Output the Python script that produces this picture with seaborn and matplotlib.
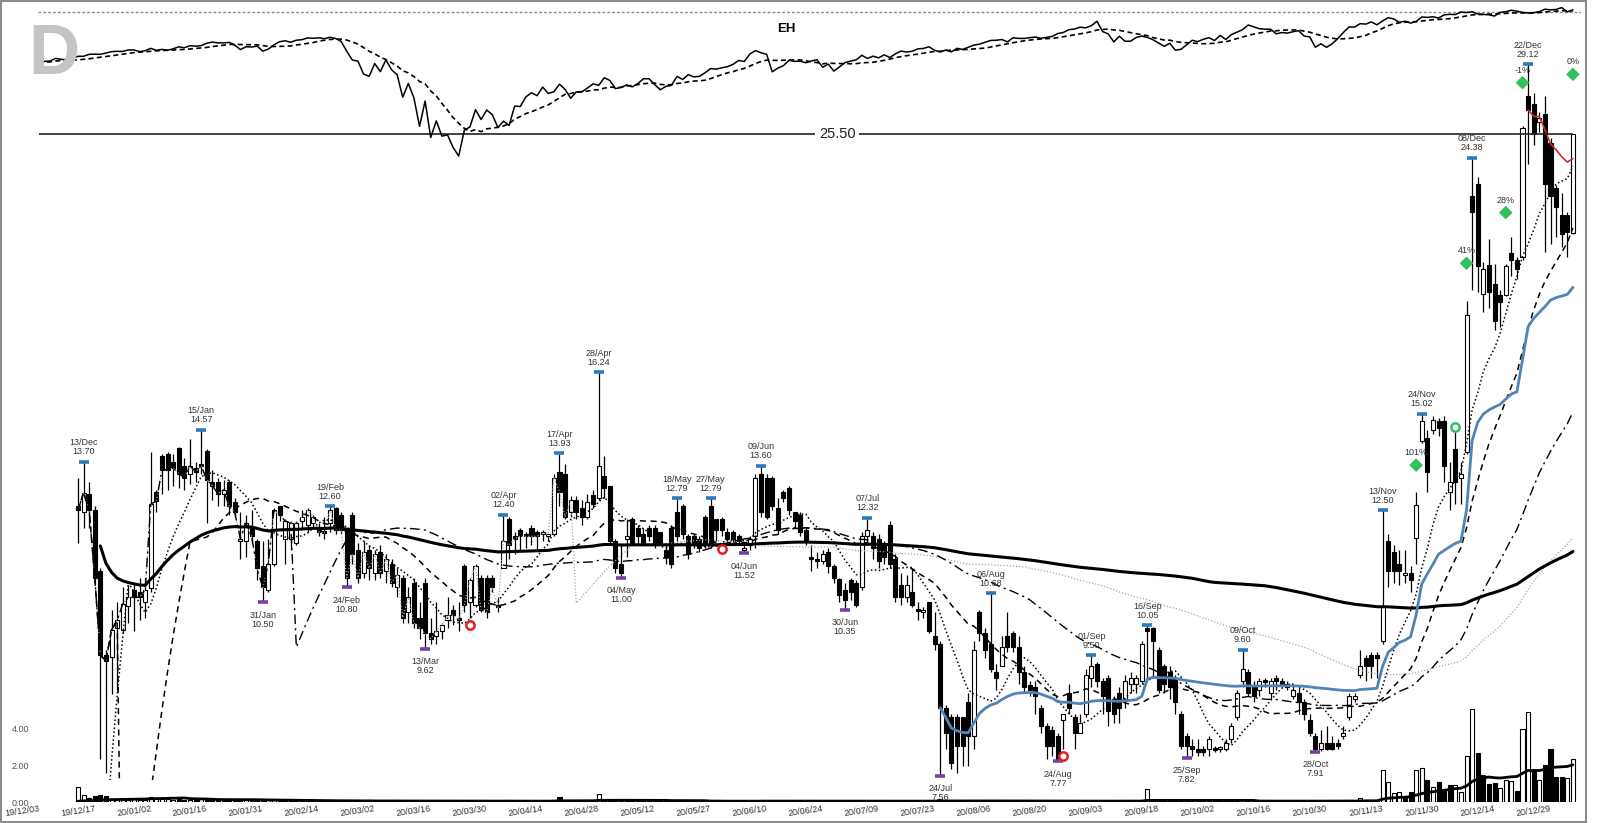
import numpy as np
import pandas as pd
import matplotlib
matplotlib.use("Agg")
import matplotlib.pyplot as plt
from matplotlib.patches import Rectangle
import seaborn as sns

# NYSE sessions covered by the chart (first tick is 19/12/03)
holidays = ["2019-12-25", "2020-01-01", "2020-01-20", "2020-02-17", "2020-04-10",
            "2020-05-25", "2020-07-03", "2020-09-07", "2020-11-26", "2020-12-25",
            "2021-01-01"]
days = pd.bdate_range("2019-12-03", "2021-01-05")
days = days[~days.isin(pd.to_datetime(holidays))]
ipo_date = "2019-12-12"

# EH daily bars from the IPO, one line per month
eh_open = [
    12.6, 12.45, 12.9, 12.5, 11.15, 9.5, 9.47, 10.0, 9.97, 10.42, 10.75, 10.7, 10.5,
    10.78, 12.95, 13.85, 13.9, 13.7, 14.07, 13.6, 13.4, 13.55, 13.65, 14.0, 13.2, 13.2, 12.9, 13.2, 12.7, 11.8, 11.8, 12.1, 11.8, 11.25,
    10.75, 11.3, 12.6, 11.85, 11.85, 11.75, 12.25, 12.15, 12.2, 12.1, 12.0, 12.2, 12.55, 12.4, 12.05, 12.4, 11.6, 11.1, 11.6,
    11.1, 11.55, 11.15, 11.3, 10.8, 11.0, 10.3, 10.9, 10.2, 10.9, 9.9, 9.85, 9.95, 10.15, 10.35, 10.2, 11.25, 10.5, 10.45, 11.0, 11.0, 11.0,
    10.45, 11.2, 12.3, 11.9, 12.05, 11.95, 12.1, 12.0, 11.95, 11.9, 11.95, 13.45, 13.4, 12.45, 12.75, 12.55, 12.35, 12.87, 12.8, 13.35, 13.1,
    11.8, 11.3, 11.85, 12.3, 12.1, 11.95, 12.1, 12.1, 12.0, 11.6, 12.1, 12.45, 12.6, 11.9, 11.9, 11.85, 12.35, 12.6, 12.3, 12.3,
    12.0, 12.0, 11.9, 11.6, 11.7, 11.9, 13.4, 13.3, 13.3, 12.55, 12.95, 13.05, 12.45, 12.4, 12.05, 11.45, 11.4, 11.35, 11.55, 11.25, 10.98, 10.75,
    10.95, 10.9, 10.8, 11.9, 11.9, 11.85, 11.7, 12.15, 11.4, 10.85, 10.6, 10.7, 10.35, 10.3, 10.5, 9.85, 9.7, 8.6, 8.45, 8.45, 8.45, 8.7,
    8.15, 10.3, 9.9, 9.7, 9.2, 9.3, 9.85, 9.9, 9.65, 9.2, 8.98, 8.95, 8.6, 8.3, 8.25, 8.15, 8.4, 8.85, 8.45, 8.2, 8.5,
    9.1, 9.35, 9.05, 9.1, 8.75, 8.85, 8.75, 9.0, 9.0, 9.05, 10.0, 10.0, 9.6, 9.3, 9.2, 9.1, 8.5, 8.15, 7.99, 7.95, 7.95,
    7.95, 7.95, 7.95, 7.95, 8.1, 8.45, 9.05, 9.2, 8.95, 8.9, 9.05, 8.85, 9.1, 9.05, 9.0, 8.8, 8.85, 8.7, 8.4, 8.15, 7.95, 8.05,
    8.05, 8.05, 8.15, 8.45, 8.75, 9.15, 9.45, 9.5, 9.5, 9.75, 11.8, 11.55, 11.3, 11.05, 11.1, 11.86, 14.25, 14.35, 14.55, 14.8,
    14.8, 12.95, 14.05, 13.3, 13.95, 22.7, 23.2, 18.85, 19.9, 19.2, 18.8, 18.8, 20.35, 20.1, 20.2, 27.4, 27.0, 26.1, 26.5, 25.1, 23.05, 21.9,
    21.9, 21.15,
]
eh_high = [
    13.3, 13.70, 13.2, 12.6, 11.2, 9.6, 10.35, 10.5, 10.8, 10.85, 10.9, 11.0, 11.0,
    13.97, 13.0, 13.9, 13.95, 13.9, 14.1, 13.8, 14.3, 13.7, 14.57, 14.05, 13.5, 13.3, 13.25, 13.25, 12.8, 12.45, 12.4, 12.5, 11.85, 11.8,
    11.85, 12.55, 12.58, 12.3, 12.25, 12.25, 12.5, 12.55, 12.4, 12.2, 12.35, 12.60, 12.58, 12.45, 12.1, 12.45, 11.75, 11.8, 11.7,
    11.6, 11.7, 11.5, 11.4, 11.2, 11.05, 10.8, 11.0, 10.5, 11.0, 10.2, 10.5, 10.1, 10.6, 10.45, 10.5, 11.3, 11.0, 11.3, 11.05, 11.05, 11.05,
    10.6, 12.40, 12.35, 12.0, 12.1, 12.0, 12.15, 12.05, 12.05, 11.95, 13.4, 13.93, 13.65, 12.85, 12.85, 12.75, 12.9, 13.0, 16.24, 13.85, 13.1,
    11.85, 11.7, 12.3, 12.35, 12.15, 12.1, 12.15, 12.15, 12.0, 11.75, 12.15, 12.79, 12.65, 11.95, 11.95, 11.9, 12.4, 12.79, 12.3, 12.35,
    12.1, 12.05, 11.95, 11.75, 11.9, 13.4, 13.60, 13.4, 13.35, 12.8, 13.0, 13.1, 12.45, 12.45, 12.1, 11.7, 11.55, 11.6, 11.65, 11.3, 11.0, 10.9,
    11.0, 10.95, 12.0, 12.32, 12.0, 11.95, 11.8, 12.25, 11.5, 11.1, 11.05, 11.2, 10.5, 10.4, 10.5, 10.3, 9.75, 8.65, 8.5, 8.5, 8.45, 8.85,
    9.75, 10.35, 10.0, 10.68, 9.35, 9.85, 10.3, 9.95, 9.85, 9.3, 9.05, 9.05, 8.65, 8.35, 8.3, 8.2, 8.5, 9.0, 8.5, 8.5, 9.25,
    9.50, 9.38, 9.1, 9.15, 8.8, 8.95, 9.15, 9.2, 9.15, 9.75, 10.05, 10.02, 9.65, 9.35, 9.3, 9.15, 8.55, 8.2, 8.1, 8.1, 8.0,
    8.15, 8.0, 8.0, 8.1, 8.35, 8.9, 9.60, 9.25, 9.05, 9.1, 9.1, 9.1, 9.15, 9.1, 9.05, 9.0, 8.95, 8.75, 8.5, 8.2, 8.25, 8.3,
    8.15, 8.1, 8.3, 8.85, 8.85, 9.6, 9.5, 9.55, 9.55, 12.50, 11.95, 11.7, 11.6, 11.6, 11.25, 12.95, 15.02, 14.55, 14.95, 14.9,
    14.95, 13.7, 14.5, 13.7, 18.6, 24.38, 23.5, 20.0, 20.9, 19.95, 19.0, 19.95, 21.0, 20.2, 25.9, 29.12, 27.6, 26.6, 27.4, 25.3, 23.15, 22.8,
    22.0, 25.50,
]
eh_low = [
    11.75, 12.1, 12.1, 10.9, 7.8, 7.6, 8.83, 8.9, 9.9, 10.1, 9.95, 10.15, 10.2,
    10.7, 12.45, 12.9, 13.0, 13.1, 13.05, 13.0, 13.15, 13.2, 13.4, 12.2, 12.75, 12.6, 12.6, 12.4, 12.35, 11.4, 11.45, 11.75, 10.95, 10.50,
    10.7, 11.25, 12.25, 11.3, 11.6, 11.7, 12.1, 12.0, 12.1, 11.9, 11.85, 12.0, 11.95, 11.95, 10.80, 11.3, 10.9, 11.0, 10.95,
    10.95, 11.0, 10.9, 10.8, 10.6, 10.1, 10.1, 10.0, 9.8, 9.62, 9.7, 9.7, 9.8, 10.0, 10.05, 9.95, 10.3, 10.2, 10.4, 10.3, 10.2, 10.7,
    10.3, 11.2, 11.4, 11.5, 11.6, 11.65, 11.7, 11.6, 11.8, 11.8, 11.9, 12.6, 12.3, 12.35, 12.3, 12.15, 12.3, 12.55, 12.75, 12.8, 11.7,
    11.1, 11.00, 11.45, 11.7, 11.7, 11.7, 11.8, 11.65, 11.7, 11.3, 11.2, 11.8, 11.85, 11.4, 11.65, 11.55, 11.65, 11.65, 11.8, 11.9,
    11.7, 11.75, 11.7, 11.52, 11.6, 11.65, 12.35, 12.3, 12.5, 11.95, 12.7, 12.4, 12.1, 11.9, 11.7, 11.15, 11.2, 11.3, 11.1, 10.9, 10.5, 10.35,
    10.55, 10.4, 10.75, 11.7, 11.4, 11.2, 11.3, 11.2, 10.5, 10.45, 10.5, 10.4, 10.15, 10.2, 9.9, 9.6, 7.56, 7.95, 7.65, 7.6, 7.7, 7.7,
    7.95, 9.75, 9.45, 9.2, 8.9, 9.3, 9.55, 9.55, 9.0, 8.85, 8.8, 8.5, 8.2, 7.8, 7.85, 7.77, 7.95, 8.5, 7.95, 8.2, 8.45,
    8.95, 8.95, 8.5, 8.3, 8.35, 8.35, 8.6, 8.85, 8.85, 9.0, 9.05, 9.1, 8.85, 8.85, 8.75, 8.5, 7.95, 7.82, 7.85, 7.85, 7.85,
    7.85, 7.9, 7.9, 7.92, 8.05, 8.4, 8.95, 8.8, 8.7, 8.8, 8.95, 8.75, 8.9, 8.95, 8.9, 8.75, 8.5, 8.4, 8.15, 7.91, 7.92, 7.93,
    7.93, 7.95, 8.1, 8.4, 8.7, 9.1, 9.05, 9.1, 9.1, 9.7, 10.8, 10.9, 10.85, 10.9, 10.7, 11.3, 14.2, 12.95, 14.45, 14.4,
    13.2, 12.5, 12.65, 12.65, 13.9, 19.0, 18.9, 18.2, 18.35, 17.6, 17.7, 18.75, 19.5, 19.4, 20.1, 24.1, 25.0, 25.6, 20.4, 20.7, 21.0, 20.6,
    20.2, 21.1,
]
eh_close = [
    12.5, 12.93, 12.5, 11.0, 9.5, 9.4, 9.97, 10.15, 10.47, 10.6, 10.6, 10.6, 10.75,
    12.65, 12.72, 13.5, 13.5, 13.55, 13.4, 13.3, 13.6, 13.45, 13.6, 13.25, 13.1, 12.9, 13.0, 12.6, 12.45, 11.85, 12.2, 11.9, 11.2, 10.8,
    11.3, 12.5, 12.4, 12.25, 12.2, 12.2, 12.35, 12.5, 12.35, 12.0, 11.97, 12.5, 12.05, 12.05, 11.0, 11.5, 11.0, 11.55, 11.2,
    11.5, 11.1, 11.4, 10.9, 11.05, 10.2, 10.6, 10.1, 10.0, 9.9, 9.8, 9.95, 10.05, 10.25, 10.25, 10.15, 10.45, 10.95, 11.25, 10.35, 10.3, 10.8,
    10.4, 11.8, 11.7, 11.85, 11.9, 11.9, 11.9, 11.9, 11.97, 11.95, 13.3, 12.95, 12.35, 12.75, 12.45, 12.35, 12.7, 12.65, 13.6, 13.05, 11.8,
    11.2, 11.1, 11.9, 11.75, 11.9, 11.75, 11.9, 11.75, 11.75, 11.45, 11.3, 11.9, 11.95, 11.5, 11.75, 11.65, 11.7, 11.7, 12.05, 12.05,
    11.85, 11.85, 11.8, 11.65, 11.85, 13.3, 12.45, 12.35, 12.6, 12.05, 12.8, 12.5, 12.25, 12.0, 11.8, 11.4, 11.35, 11.5, 11.25, 11.0, 10.65, 10.55,
    10.7, 10.45, 11.9, 12.05, 11.65, 11.35, 11.45, 11.3, 10.6, 10.6, 10.85, 10.45, 10.32, 10.3, 9.95, 9.7, 8.6, 8.2, 7.75, 8.0, 8.0, 8.15,
    9.6, 9.9, 9.6, 9.25, 9.1, 9.65, 9.65, 9.65, 9.2, 8.95, 8.9, 8.8, 8.3, 8.0, 8.0, 7.8, 8.5, 8.6, 8.2, 8.35, 9.15,
    9.3, 9.05, 8.8, 8.55, 8.5, 8.6, 9.05, 9.1, 9.1, 9.7, 9.95, 9.75, 8.9, 9.0, 8.95, 8.7, 8.0, 7.99, 7.95, 7.9, 7.9,
    8.1, 7.93, 7.95, 8.05, 8.3, 8.85, 9.25, 8.85, 8.8, 9.05, 9.02, 9.05, 9.05, 9.0, 8.95, 8.9, 8.7, 8.5, 8.2, 7.95, 8.05, 7.95,
    7.95, 8.0, 8.2, 8.8, 8.8, 9.3, 9.3, 9.3, 9.45, 10.42, 11.15, 11.15, 11.15, 11.1, 10.95, 12.63, 14.8, 13.45, 14.85, 14.6,
    13.6, 13.2, 13.2, 13.4, 18.1, 22.0, 19.85, 19.75, 18.9, 17.9, 18.55, 19.85, 20.1, 19.75, 25.8, 26.7, 25.5, 26.3, 23.2, 22.7, 22.2, 21.1,
    21.2, 25.50,
]
eh_volume = [
    0.80, 0.38, 0.20, 0.32, 0.38, 0.35, 0.17, 0.12, 0.10, 0.10, 0.14, 0.12, 0.10,
    0.27, 0.15, 0.18, 0.14, 0.12, 0.15, 0.12, 0.13, 0.10, 0.14, 0.16, 0.10, 0.09, 0.08, 0.10, 0.08, 0.10, 0.09, 0.08, 0.10, 0.10,
    0.09, 0.10, 0.07, 0.06, 0.05, 0.05, 0.05, 0.06, 0.04, 0.04, 0.04, 0.06, 0.05, 0.05, 0.07, 0.06, 0.05, 0.05, 0.10,
    0.05, 0.05, 0.04, 0.10, 0.05, 0.06, 0.05, 0.05, 0.05, 0.06, 0.05, 0.04, 0.04, 0.04, 0.04, 0.05, 0.05, 0.04, 0.05, 0.04, 0.04, 0.04,
    0.04, 0.08, 0.10, 0.05, 0.04, 0.04, 0.04, 0.04, 0.04, 0.05, 0.12, 0.27, 0.10, 0.06, 0.05, 0.05, 0.05, 0.06, 0.45, 0.12, 0.08,
    0.08, 0.06, 0.05, 0.05, 0.04, 0.04, 0.04, 0.04, 0.04, 0.04, 0.05, 0.06, 0.05, 0.04, 0.04, 0.04, 0.05, 0.06, 0.04, 0.04,
    0.04, 0.04, 0.04, 0.05, 0.04, 0.08, 0.10, 0.07, 0.05, 0.05, 0.04, 0.04, 0.04, 0.04, 0.04, 0.04, 0.04, 0.04, 0.04, 0.04, 0.05, 0.05,
    0.04, 0.04, 0.06, 0.08, 0.05, 0.04, 0.04, 0.05, 0.05, 0.04, 0.04, 0.04, 0.04, 0.04, 0.05, 0.06, 0.15, 0.10, 0.08, 0.06, 0.05, 0.05,
    0.06, 0.06, 0.05, 0.06, 0.05, 0.05, 0.05, 0.04, 0.05, 0.04, 0.04, 0.04, 0.05, 0.05, 0.05, 0.08, 0.05, 0.04, 0.04, 0.04, 0.05,
    0.06, 0.05, 0.05, 0.05, 0.04, 0.04, 0.04, 0.04, 0.05, 0.12, 0.71, 0.10, 0.06, 0.05, 0.05, 0.05, 0.06, 0.05, 0.04, 0.04, 0.04,
    0.04, 0.04, 0.04, 0.04, 0.05, 0.06, 0.10, 0.06, 0.05, 0.05, 0.04, 0.04, 0.04, 0.04, 0.08, 0.04, 0.04, 0.05, 0.05, 0.06, 0.04, 0.04,
    0.05, 0.05, 0.06, 0.10, 0.08, 0.20, 0.10, 0.08, 0.08, 1.74, 1.10, 0.47, 0.56, 0.29, 0.52, 1.74, 1.83, 1.20, 0.83, 1.10,
    0.66, 0.93, 0.93, 0.56, 2.50, 5.07, 2.69, 1.47, 0.98, 1.02, 0.75, 1.20, 1.17, 0.60, 3.98, 4.89, 1.74, 1.20, 2.02, 2.87, 1.37, 1.37,
    1.28, 2.32,
]

# market line in the top band (S&P 500 closes, whole axis)
spx_close = [
    3093, 3113, 3117, 3146, 3135, 3132, 3142, 3169, 3169, 3191, 3192, 3191, 3205, 3221, 3224, 3223, 3240, 3240, 3221, 3231,
    3258, 3235, 3246, 3237, 3253, 3275, 3265, 3288, 3283, 3289, 3317, 3330, 3321, 3321, 3326, 3295, 3244, 3276, 3273, 3284, 3226,
    3249, 3298, 3334, 3345, 3328, 3352, 3358, 3379, 3374, 3380, 3370, 3386, 3373, 3338, 3226, 3128, 3116, 2979, 2954,
    3090, 3003, 3130, 3024, 2972, 2747, 2882, 2741, 2481, 2711, 2386, 2529, 2398, 2409, 2305, 2237, 2447, 2476, 2630, 2541, 2627, 2585,
    2471, 2527, 2489, 2664, 2659, 2750, 2790, 2762, 2846, 2783, 2800, 2875, 2823, 2737, 2799, 2798, 2837, 2878, 2863, 2940, 2912,
    2831, 2842, 2868, 2848, 2881, 2930, 2930, 2870, 2820, 2852, 2864, 2954, 2922, 2972, 2949, 2955, 2992, 3036, 3030, 3044,
    3056, 3081, 3123, 3112, 3194, 3232, 3208, 3190, 3002, 3041, 3067, 3125, 3113, 3115, 3098, 3118, 3131, 3050, 3084, 3009, 3053, 3100,
    3116, 3130, 3180, 3145, 3170, 3152, 3185, 3155, 3197, 3227, 3216, 3225, 3252, 3257, 3276, 3236, 3216, 3239, 3218, 3258, 3246, 3271,
    3295, 3306, 3327, 3349, 3351, 3360, 3333, 3380, 3373, 3373, 3382, 3389, 3375, 3385, 3397, 3431, 3444, 3478, 3485, 3508, 3500,
    3527, 3581, 3455, 3427, 3332, 3399, 3340, 3341, 3384, 3401, 3385, 3358, 3320, 3281, 3316, 3237, 3247, 3298, 3351, 3336, 3363,
    3381, 3348, 3409, 3361, 3419, 3447, 3477, 3535, 3512, 3489, 3483, 3484, 3427, 3443, 3436, 3453, 3465, 3401, 3391, 3271, 3310, 3270,
    3310, 3370, 3443, 3510, 3509, 3551, 3546, 3573, 3537, 3585, 3627, 3610, 3568, 3582, 3558, 3577, 3635, 3630, 3638, 3622,
    3662, 3669, 3666, 3699, 3692, 3702, 3673, 3668, 3663, 3647, 3695, 3702, 3722, 3709, 3694, 3687, 3690, 3703, 3735, 3727, 3732, 3756,
    3701, 3726,
]
spx_ref = 3702

high_dates = ["2019-12-13", "2020-01-15", "2020-02-19", "2020-04-02", "2020-04-17", "2020-04-28",
              "2020-05-18", "2020-05-27", "2020-06-09", "2020-07-07", "2020-08-06", "2020-09-01",
              "2020-09-16", "2020-10-09", "2020-11-13", "2020-11-24", "2020-12-08", "2020-12-22"]
low_dates = ["2020-01-31", "2020-02-24", "2020-03-13", "2020-05-04", "2020-06-04", "2020-06-30",
             "2020-07-24", "2020-08-24", "2020-09-25", "2020-10-28"]

signal_dates = ["2020-11-23", "2020-12-07", "2020-12-16", "2020-12-21", "2021-01-05"]
signal_prices = [13.62, 19.97, 21.98, 28.12, 28.57]
signal_labels = ["101%", "41%", "28%", "-1%", "0%"]
red_ring_dates = ["2020-03-25", "2020-05-29", "2020-08-25"]
red_ring_prices = [10.05, 11.62, 7.85]
green_ring_dates = ["2020-12-03"]
green_ring_prices = [14.65]

vwap_anchors = ["2020-07-24", "2020-12-22"]

# ---------------------------------------------------------------- frame
df = pd.DataFrame({"date": days, "pos": np.arange(len(days))})
first = int(np.flatnonzero(df["date"] == pd.Timestamp(ipo_date))[0])
for name, vals in [("open", eh_open), ("high", eh_high), ("low", eh_low),
                   ("close", eh_close), ("volume", eh_volume)]:
    col = np.full(len(df), np.nan)
    col[first:] = vals
    df[name] = col
df["spx"] = spx_close
pos_of = dict(zip(df["date"], df["pos"]))


def padded_ma(s, n, switch=0):
    # the charting package pads pre-IPO days with 0 and shows price until "switch"
    ma = s.fillna(0).rolling(n, min_periods=1).sum() / n
    ma = ma.where(df["pos"] >= switch, s)
    return ma.where(s.notna())


df["ma10"] = padded_ma(df["close"], 10)
df["ma21"] = padded_ma(df["close"], 21, 15)
df["ma50"] = padded_ma(df["close"], 50, 46)
df["ma100"] = padded_ma(df["close"], 100, 96)
df["ma200"] = df["close"].rolling(200, min_periods=5).mean()
df["vol_ma"] = padded_ma(df["volume"], 20)
df["spx_ma"] = df["spx"].rolling(10, min_periods=1).mean()
for k, anchor in enumerate(vwap_anchors):
    m = df["date"] >= pd.Timestamp(anchor)
    pv = (df["close"] * df["volume"]).where(m).cumsum()
    df[f"vwap{k}"] = pv / df["volume"].where(m).cumsum()

eh = df.dropna(subset=["close"]).copy()
eh["up"] = eh["close"] >= eh["open"]
eh["vol_up"] = eh["close"] >= eh["close"].shift(1).fillna(0)

# ---------------------------------------------------------------- figure
sns.set_style("white")
plt.rcParams["font.family"] = ["Liberation Sans", "DejaVu Sans"]

W, H = 1600, 823
fig = plt.figure(figsize=(16, 8.23), dpi=100)
left, width = 37.66 / W, (1581.3 - 37.66) / W
xlim = (-0.2, 275.5)

ax_v = fig.add_axes([left, 1 - 802 / H, width, 802 / H])
ax_p = fig.add_axes([left, 1 - 780 / H, width, 780 / H])
ax_s = fig.add_axes([left, 0, width, 1])
for a in (ax_v, ax_p, ax_s):
    a.set_facecolor("none")
    a.set_xlim(*xlim)
    for sp in a.spines.values():
        sp.set_visible(False)

# volume panel
ax_v.set_ylim(0, 802 / 18.37)
ax_v.bar(eh["pos"][eh["vol_up"]], eh["volume"][eh["vol_up"]], width=0.72,
         color="white", edgecolor="black", linewidth=0.8, zorder=2)
ax_v.bar(eh["pos"][~eh["vol_up"]], eh["volume"][~eh["vol_up"]], width=0.72,
         color="black", edgecolor="black", linewidth=0.8, zorder=2)
sns.lineplot(data=eh, x="pos", y="vol_ma", ax=ax_v, color="black", linewidth=2.0,
             estimator=None, zorder=3)
ax_v.set_yticks([0, 2, 4])
ax_v.set_yticklabels([f"{v:.2f}" for v in [0, 2, 4]])
ax_v.set_xticks(df["pos"][::10])
ax_v.set_xticklabels(df["date"][::10].dt.strftime("%y/%m/%d"), rotation=8,
                     ha="right", rotation_mode="anchor")
ax_v.tick_params(axis="y", length=0, pad=6, labelsize=6.5, labelcolor="#555555")
ax_v.tick_params(axis="x", length=0, pad=1.5, labelsize=6.5, labelcolor="#333333")
ax_v.set_xlabel("")
ax_v.set_ylabel("")

# price panel (log)
ax_p.set_yscale("log")
ax_p.set_ylim(np.exp((1842.7 - 780) / 527.5), np.exp(1842.7 / 527.5))
ax_p.axis("off")

body_lo = np.minimum(eh["open"], eh["close"])
body_h = np.maximum((eh["open"] - eh["close"]).abs(), body_lo * 0.004)
ax_p.vlines(eh["pos"], eh["low"], eh["high"], color="black", linewidth=0.9, zorder=2)
ax_p.bar(eh["pos"][eh["up"]], body_h[eh["up"]], bottom=body_lo[eh["up"]], width=0.72,
         color="white", edgecolor="black", linewidth=0.8, zorder=2.5)
ax_p.bar(eh["pos"][~eh["up"]], body_h[~eh["up"]], bottom=body_lo[~eh["up"]], width=0.72,
         color="black", edgecolor="black", linewidth=0.8, zorder=2.5)

line_styles = [
    ("ma100", "#a6a6a6", 0.9, (0, (1, 1.5))),
    ("ma50", "black", 1.0, (0, (7, 3, 1.5, 3))),
    ("ma21", "black", 1.1, (0, (4, 3))),
    ("ma10", "black", 1.1, (0, (1, 1.6))),
    ("ma200", "black", 2.2, "-"),
    ("vwap0", "#4f84b5", 2.0, "-"),
    ("vwap1", "#c8302a", 1.2, "-"),
]
for col, color, lw, ls in line_styles:
    sns.lineplot(data=df, x="pos", y=col, ax=ax_p, color=color, linewidth=lw,
                 linestyle=ls, estimator=None, zorder=3)

last_close = eh["close"].iloc[-1]
ax_p.hlines(last_close, df["pos"].iloc[0], eh["pos"].iloc[-1], color="#222222",
            linewidth=1.2, zorder=3.5)
ax_p.text(0.518, last_close, f"{last_close:.2f}", transform=ax_p.get_yaxis_transform(),
          ha="center", va="center", fontsize=10.5, color="#222222", zorder=4,
          bbox=dict(boxstyle="square,pad=0.25", fc="white", ec="none"))

# swing highs / lows
for d in high_dates:
    r = eh.loc[eh["date"] == pd.Timestamp(d)].iloc[0]
    ax_p.plot(r["pos"], r["high"], marker="_", markersize=7.5, mew=2.6,
              color="#2b7bba", zorder=5)
    ax_p.annotate(f"{r['date']:%d/%b}\n{r['high']:.2f}", (r["pos"], r["high"]),
                  xytext=(0, 4), textcoords="offset points", ha="center", va="bottom",
                  fontsize=6.5, color="#333333", linespacing=1.0, zorder=5)
for d in low_dates:
    r = eh.loc[eh["date"] == pd.Timestamp(d)].iloc[0]
    ax_p.plot(r["pos"], r["low"], marker="_", markersize=7.5, mew=2.6,
              color="#7a3fa6", zorder=5)
    ax_p.annotate(f"{r['date']:%d/%b}\n{r['low']:.2f}", (r["pos"], r["low"]),
                  xytext=(0, -6), textcoords="offset points", ha="center", va="top",
                  fontsize=6.5, color="#333333", linespacing=1.0, zorder=5,
                  annotation_clip=False)

sig = pd.DataFrame({"pos": [pos_of[pd.Timestamp(d)] for d in signal_dates],
                    "price": signal_prices, "label": signal_labels})
sns.scatterplot(data=sig, x="pos", y="price", ax=ax_p, marker="D", s=48,
                color="#32c05f", edgecolor="none", zorder=6)
for _, r in sig.iterrows():
    ax_p.annotate(r["label"], (r["pos"], r["price"]), xytext=(0, 9),
                  textcoords="offset points", ha="center", va="center",
                  fontsize=6.5, color="#333333", zorder=6)
rings = [(red_ring_dates, red_ring_prices, "#e02020"),
         (green_ring_dates, green_ring_prices, "#32c05f")]
for dates, prices, color in rings:
    ax_p.scatter([pos_of[pd.Timestamp(d)] for d in dates], prices, s=36,
                 facecolor="white", edgecolor=color, linewidth=1.8, zorder=6)

# market band on top
ax_s.set_yscale("log")
ax_s.set_ylim(np.exp((2365 - H) / 286.4), np.exp(2365 / 286.4))
ax_s.axis("off")
ax_s.axhline(spx_ref, color="#8a8a8a", linewidth=1.0, linestyle=(0, (2, 1.5)))
sns.lineplot(data=df, x="pos", y="spx", ax=ax_s, color="black", linewidth=1.1,
             estimator=None)
sns.lineplot(data=df, x="pos", y="spx_ma", ax=ax_s, color="black", linewidth=1.2,
             linestyle=(0, (3, 2)), estimator=None)

fig.text(28 / W, 1 - 74 / H, "D", fontsize=51, fontweight="bold", color="#c4c4c4",
         ha="left", va="baseline")
fig.text(786 / W, 1 - 28.5 / H, "EH", fontsize=9.5, fontweight="bold", color="black",
         ha="center", va="center")
fig.add_artist(Rectangle((0.0005, 0.001), 1585 / W, 0.998, transform=fig.transFigure,
                         fill=False, edgecolor="#8c8c8c", linewidth=1.5))

fig.savefig("out.png", dpi=100)
